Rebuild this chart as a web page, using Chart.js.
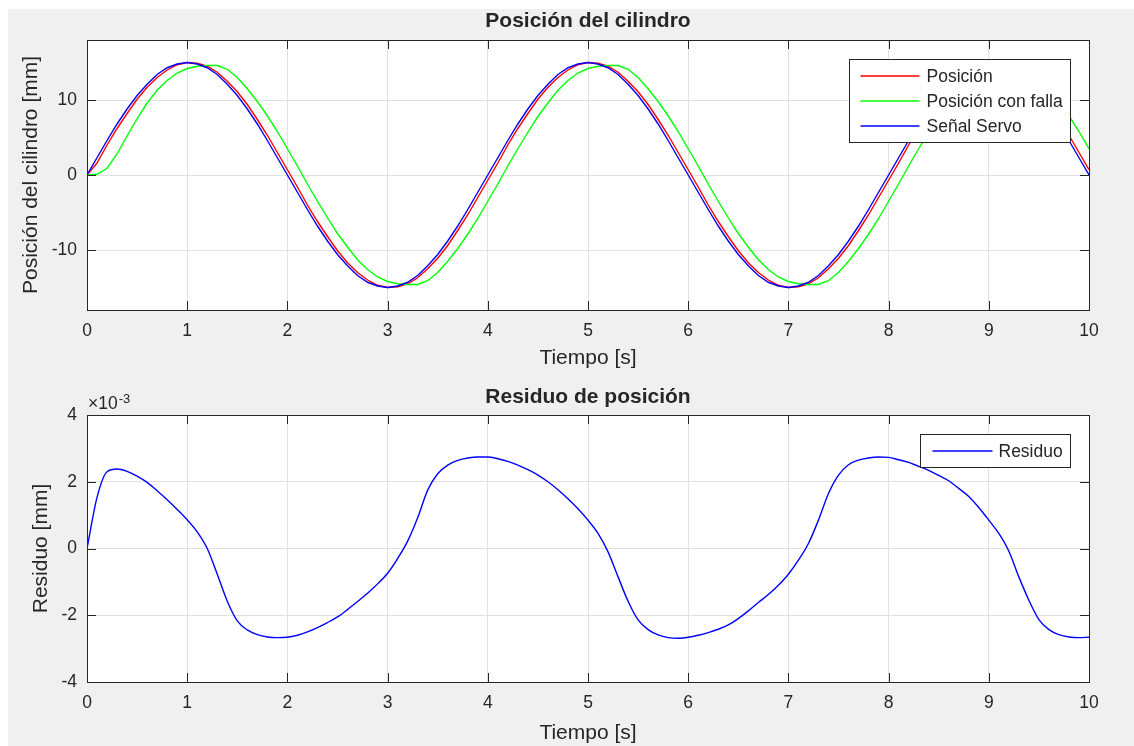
<!DOCTYPE html>
<html>
<head>
<meta charset="utf-8">
<script src="https://cdn.jsdelivr.net/npm/chart.js@4.4.1/dist/chart.umd.min.js"></script>
<style>
  body { margin: 0; background: #ffffff; }
  #figura { position: absolute; left: 8px; top: 9px; width: 1126px; height: 737px; background: #f0f0f0; }
  canvas { position: absolute; left: 0; display: block; }
  #posicion { top: 0; }
  #residuo { top: 371px; }
</style>
</head>
<body>
<div id="figura">
  <canvas id="posicion" width="1126" height="371"></canvas>
  <canvas id="residuo" width="1126" height="366"></canvas>
</div>
<script>
// tiempo [s], muestreado cada 0.1 s
const tiempo = [
  0, 0.1, 0.2, 0.3, 0.4, 0.5, 0.6, 0.7, 0.8, 0.9,
  1, 1.1, 1.2, 1.3, 1.4, 1.5, 1.6, 1.7, 1.8, 1.9,
  2, 2.1, 2.2, 2.3, 2.4, 2.5, 2.6, 2.7, 2.8, 2.9,
  3, 3.1, 3.2, 3.3, 3.4, 3.5, 3.6, 3.7, 3.8, 3.9,
  4, 4.1, 4.2, 4.3, 4.4, 4.5, 4.6, 4.7, 4.8, 4.9,
  5, 5.1, 5.2, 5.3, 5.4, 5.5, 5.6, 5.7, 5.8, 5.9,
  6, 6.1, 6.2, 6.3, 6.4, 6.5, 6.6, 6.7, 6.8, 6.9,
  7, 7.1, 7.2, 7.3, 7.4, 7.5, 7.6, 7.7, 7.8, 7.9,
  8, 8.1, 8.2, 8.3, 8.4, 8.5, 8.6, 8.7, 8.8, 8.9,
  9, 9.1, 9.2, 9.3, 9.4, 9.5, 9.6, 9.7, 9.8, 9.9,
  10
];

// Posición [mm] (rojo)
const posicion = [
  0, 1.6, 4.0, 6.2, 8.2, 10.1, 11.7, 13.0, 14.0, 14.7,
  15.0, 14.9, 14.5, 13.7, 12.5, 11.1, 9.4, 7.4, 5.3, 3.0,
  0.7, -1.6, -4.0, -6.2, -8.2, -10.1, -11.7, -13.0, -14.0, -14.7,
  -15.0, -14.9, -14.5, -13.7, -12.5, -11.1, -9.4, -7.4, -5.3, -3.0,
  -0.7, 1.6, 4.0, 6.2, 8.2, 10.1, 11.7, 13.0, 14.0, 14.7,
  15.0, 14.9, 14.5, 13.7, 12.5, 11.1, 9.4, 7.4, 5.3, 3.0,
  0.7, -1.6, -4.0, -6.2, -8.2, -10.1, -11.7, -13.0, -14.0, -14.7,
  -15.0, -14.9, -14.5, -13.7, -12.5, -11.1, -9.4, -7.4, -5.3, -3.0,
  -0.7, 1.6, 4.0, 6.2, 8.2, 10.1, 11.7, 13.0, 14.0, 14.7,
  15.0, 14.9, 14.5, 13.7, 12.5, 11.1, 9.4, 7.4, 5.3, 3.0,
  0.7
];

// Posición con falla [mm] (verde)
const posicionFalla = [
  0, 0.1, 0.9, 2.8, 5.2, 7.5, 9.6, 11.3, 12.6, 13.6,
  14.2, 14.5, 14.6, 14.6, 14.1, 13.0, 11.5, 9.8, 7.9, 5.8,
  3.5, 1.2, -1.2, -3.5, -5.7, -7.8, -9.6, -11.3, -12.6, -13.6,
  -14.2, -14.5, -14.6, -14.6, -14.1, -13.0, -11.5, -9.8, -7.9, -5.8,
  -3.5, -1.2, 1.2, 3.5, 5.7, 7.8, 9.6, 11.3, 12.6, 13.6,
  14.2, 14.5, 14.6, 14.6, 14.1, 13.0, 11.5, 9.8, 7.9, 5.8,
  3.5, 1.2, -1.2, -3.5, -5.7, -7.8, -9.6, -11.3, -12.6, -13.6,
  -14.2, -14.5, -14.6, -14.6, -14.1, -13.0, -11.5, -9.8, -7.9, -5.8,
  -3.5, -1.2, 1.2, 3.5, 5.7, 7.8, 9.6, 11.3, 12.6, 13.6,
  14.2, 14.5, 14.6, 14.6, 14.1, 13.0, 11.5, 9.8, 7.9, 5.8,
  3.5
];

// Señal Servo [mm] (azul)
const senalServo = [
  0, 2.3, 4.6, 6.8, 8.8, 10.6, 12.1, 13.4, 14.3, 14.8,
  15.0, 14.8, 14.3, 13.4, 12.1, 10.6, 8.8, 6.8, 4.6, 2.3,
  0, -2.3, -4.6, -6.8, -8.8, -10.6, -12.1, -13.4, -14.3, -14.8,
  -15.0, -14.8, -14.3, -13.4, -12.1, -10.6, -8.8, -6.8, -4.6, -2.3,
  0, 2.3, 4.6, 6.8, 8.8, 10.6, 12.1, 13.4, 14.3, 14.8,
  15.0, 14.8, 14.3, 13.4, 12.1, 10.6, 8.8, 6.8, 4.6, 2.3,
  0, -2.3, -4.6, -6.8, -8.8, -10.6, -12.1, -13.4, -14.3, -14.8,
  -15.0, -14.8, -14.3, -13.4, -12.1, -10.6, -8.8, -6.8, -4.6, -2.3,
  0, 2.3, 4.6, 6.8, 8.8, 10.6, 12.1, 13.4, 14.3, 14.8,
  15.0, 14.8, 14.3, 13.4, 12.1, 10.6, 8.8, 6.8, 4.6, 2.3,
  0
];

// Residuo [mm x 10^-3]
const residuo = [
  0, 1.53, 2.30, 2.38, 2.31, 2.17, 1.98, 1.73, 1.46, 1.17,
  0.86, 0.50, 0.00, -0.77, -1.58, -2.17, -2.44, -2.58, -2.65, -2.67,
  -2.66, -2.60, -2.50, -2.37, -2.22, -2.05, -1.83, -1.59, -1.34, -1.06,
  -0.74, -0.30, 0.22, 0.92, 1.75, 2.24, 2.50, 2.64, 2.71, 2.74,
  2.74, 2.69, 2.61, 2.50, 2.36, 2.20, 2.00, 1.76, 1.49, 1.19,
  0.85, 0.45, -0.10, -0.85, -1.58, -2.14, -2.43, -2.59, -2.67, -2.69,
  -2.66, -2.60, -2.52, -2.42, -2.29, -2.10, -1.87, -1.62, -1.38, -1.10,
  -0.77, -0.35, 0.15, 0.85, 1.65, 2.20, 2.51, 2.65, 2.71, 2.74,
  2.73, 2.66, 2.58, 2.46, 2.34, 2.19, 2.03, 1.80, 1.56, 1.23,
  0.85, 0.45, -0.08, -0.85, -1.55, -2.13, -2.43, -2.58, -2.65, -2.67,
  -2.66
];

const ticksX = [0, 1, 2, 3, 4, 5, 6, 7, 8, 9, 10];
const ticksPosicion = [-10, 0, 10];
const ticksResiduo = [-4, -2, 0, 2, 4];

const FUENTE = "'Liberation Sans', Arial, Helvetica, sans-serif";
const COLOR_TEXTO = '#262626';
const COLOR_EJE = '#262626';
const COLOR_REJILLA = '#e1e1e1';
const LARGO_TICK = 9;
const TAM_TICK = 17.5;
const TAM_ETIQUETA = 21;

function puntos(valores) {
  return tiempo.map((t, i) => ({ x: t, y: valores[i] }));
}

// caja de ejes estilo MATLAB: fondo blanco, marco, ticks hacia dentro, leyenda con borde
const ejesMatlab = {
  id: 'ejesMatlab',
  beforeDraw(chart) {
    const { ctx, chartArea: a } = chart;
    ctx.save();
    ctx.fillStyle = '#ffffff';
    ctx.fillRect(a.left, a.top, a.right - a.left, a.bottom - a.top);
    ctx.restore();
  },
  afterDatasetsDraw(chart) {
    const { ctx, chartArea: a, scales: { x, y } } = chart;
    ctx.save();
    ctx.strokeStyle = COLOR_EJE;
    ctx.lineWidth = 1;
    ctx.beginPath();
    x.ticks.forEach(t => {
      const px = Math.round(x.getPixelForValue(t.value)) + 0.5;
      ctx.moveTo(px, a.bottom); ctx.lineTo(px, a.bottom - LARGO_TICK);
      ctx.moveTo(px, a.top); ctx.lineTo(px, a.top + LARGO_TICK);
    });
    y.ticks.forEach(t => {
      const py = Math.round(y.getPixelForValue(t.value)) + 0.5;
      ctx.moveTo(a.left, py); ctx.lineTo(a.left + LARGO_TICK, py);
      ctx.moveTo(a.right, py); ctx.lineTo(a.right - LARGO_TICK, py);
    });
    ctx.stroke();
    ctx.strokeRect(Math.round(a.left) + 0.5, Math.round(a.top) + 0.5,
      Math.round(a.right - a.left), Math.round(a.bottom - a.top));
    ctx.restore();
  },
  afterDraw(chart, args, opts) {
    const { ctx, chartArea: a } = chart;
    const ds = chart.data.datasets;
    ctx.save();
    ctx.font = TAM_TICK + 'px ' + FUENTE;
    const anchoTexto = Math.max(...ds.map(d => ctx.measureText(d.label).width));
    const ancho = Math.round(opts.textoX + anchoTexto + 8);
    const alto = Math.round(opts.fila0 * 2 + (ds.length - 1) * opts.paso);
    const x0 = Math.round(a.right - opts.margen - ancho) + 0.5;
    const y0 = Math.round(a.top + opts.margen) + 0.5;
    ctx.fillStyle = '#ffffff';
    ctx.fillRect(x0, y0, ancho, alto);
    ctx.strokeStyle = COLOR_EJE;
    ctx.lineWidth = 1;
    ctx.strokeRect(x0, y0, ancho, alto);
    ds.forEach((d, i) => {
      const yy = Math.round(y0 + opts.fila0 + i * opts.paso);
      ctx.strokeStyle = d.borderColor;
      ctx.lineWidth = 1.5;
      ctx.beginPath();
      ctx.moveTo(x0 + opts.linea[0], yy);
      ctx.lineTo(x0 + opts.linea[1], yy);
      ctx.stroke();
      ctx.fillStyle = COLOR_TEXTO;
      ctx.textBaseline = 'middle';
      ctx.textAlign = 'left';
      ctx.fillText(d.label, x0 + opts.textoX, yy + 1);
    });
    if (opts.exponente) {
      ctx.fillStyle = COLOR_TEXTO;
      ctx.textBaseline = 'alphabetic';
      ctx.font = TAM_TICK + 'px ' + FUENTE;
      ctx.fillText('\u00d710', a.left + 1, a.top - 6);
      const w = ctx.measureText('\u00d710').width;
      ctx.font = '13px ' + FUENTE;
      ctx.fillText('-3', a.left + 2 + w, a.top - 12);
    }
    ctx.restore();
  }
};

function ejeX(altura, padTitulo) {
  return {
    type: 'linear', min: 0, max: 10,
    afterBuildTicks: s => { s.ticks = ticksX.map(v => ({ value: v })); },
    afterFit: s => { s.height = altura; },
    grid: { color: COLOR_REJILLA, lineWidth: 1, drawTicks: false },
    border: { display: false },
    ticks: { color: COLOR_TEXTO, font: { family: FUENTE, size: TAM_TICK }, padding: 11, maxRotation: 0, autoSkip: false },
    title: { display: true, text: 'Tiempo [s]', color: COLOR_TEXTO, font: { family: FUENTE, size: TAM_ETIQUETA }, padding: { top: 0, bottom: padTitulo } }
  };
}

function ejeY(min, max, ticks, titulo, padTitulo) {
  return {
    type: 'linear', min: min, max: max,
    afterBuildTicks: s => { s.ticks = ticks.map(v => ({ value: v })); },
    afterFit: s => { s.width = 79; },
    grid: { color: COLOR_REJILLA, lineWidth: 1, drawTicks: false },
    border: { display: false },
    ticks: { color: COLOR_TEXTO, font: { family: FUENTE, size: TAM_TICK }, padding: 10 },
    title: { display: true, text: titulo, color: COLOR_TEXTO, font: { family: FUENTE, size: TAM_ETIQUETA }, padding: { top: padTitulo, bottom: 0 } }
  };
}

function titulo(texto, arriba, abajo) {
  return {
    display: true, text: texto, fullSize: false, color: COLOR_TEXTO,
    font: { family: FUENTE, size: TAM_ETIQUETA, weight: 'bold' },
    padding: { top: arriba, bottom: abajo }
  };
}

new Chart(document.getElementById('posicion'), {
  type: 'line',
  data: {
    datasets: [
      { label: 'Posición', data: puntos(posicion), borderColor: '#ff0000', order: 3 },
      { label: 'Posición con falla', data: puntos(posicionFalla), borderColor: '#00ff00', order: 2 },
      { label: 'Señal Servo', data: puntos(senalServo), borderColor: '#0000ff', order: 1 }
    ]
  },
  options: {
    responsive: false,
    animation: false,
    layout: { padding: { left: 0, top: 0, right: 45, bottom: 0 } },
    elements: { point: { radius: 0 }, line: { borderWidth: 1.4, tension: 0 } },
    scales: {
      x: ejeX(70, 9.4),
      y: ejeY(-18, 18, ticksPosicion, 'Posición del cilindro [mm]', 10.4)
    },
    plugins: {
      legend: { display: false },
      tooltip: { enabled: false },
      title: titulo('Posición del cilindro', 0, 5.8),
      ejesMatlab: { margen: 19, fila0: 16.5, paso: 24.8, linea: [11, 70], textoX: 77, exponente: false }
    }
  },
  plugins: [ejesMatlab]
});

new Chart(document.getElementById('residuo'), {
  type: 'line',
  data: {
    datasets: [
      { label: 'Residuo', data: puntos(residuo), borderColor: '#0000ff', cubicInterpolationMode: 'monotone' }
    ]
  },
  options: {
    responsive: false,
    animation: false,
    layout: { padding: { left: 0, top: 0, right: 45, bottom: 0 } },
    elements: { point: { radius: 0 }, line: { borderWidth: 1.4 } },
    scales: {
      x: ejeX(64, 0.4),
      y: ejeY(-4, 4, ticksResiduo, 'Residuo [mm]', 20.4)
    },
    plugins: {
      legend: { display: false },
      tooltip: { enabled: false },
      title: titulo('Residuo de posición', 4.4, 5.4),
      ejesMatlab: { margen: 19, fila0: 16.5, paso: 24.8, linea: [12, 72], textoX: 78, exponente: true }
    }
  },
  plugins: [ejesMatlab]
});
</script>
</body>
</html>
